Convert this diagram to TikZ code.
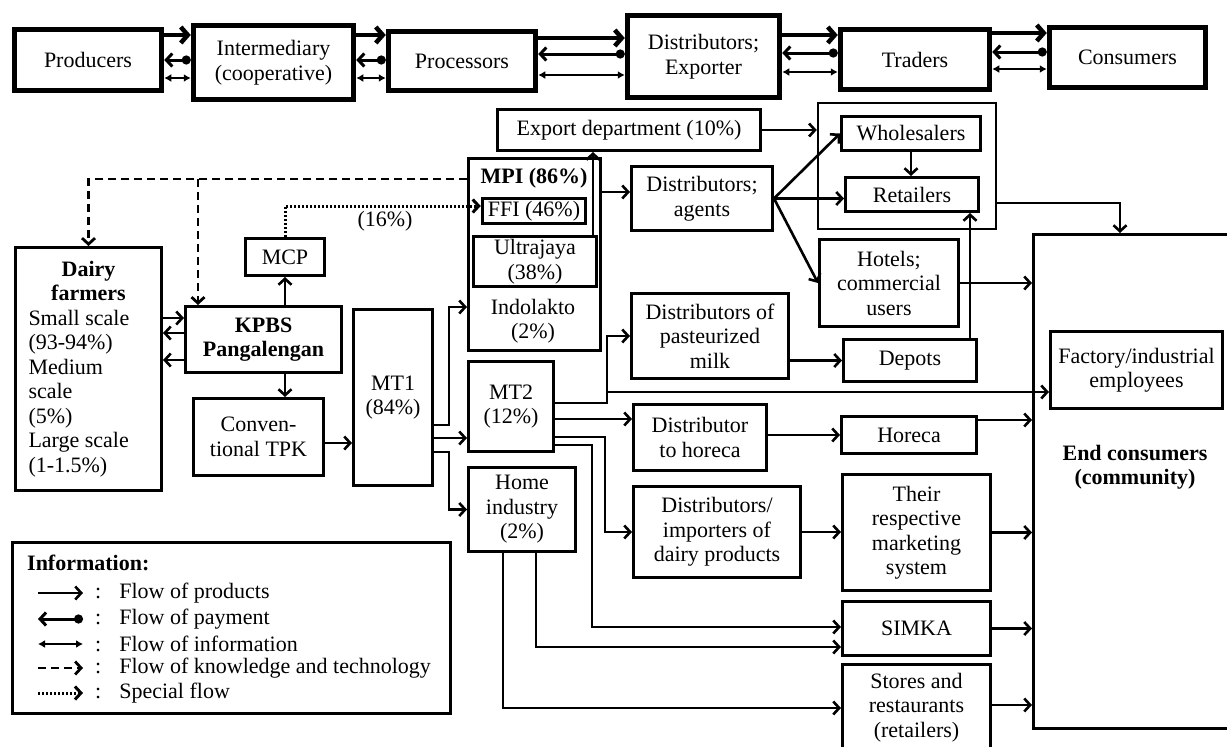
\documentclass[tikz,border=0pt]{standalone}
\usepackage{fontspec}
\setmainfont{Liberation Serif}
\usepackage{tikz}
\usetikzlibrary{arrows.meta}
\usetikzlibrary{positioning}

\begin{document}
\begin{tikzpicture}[x=1pt,y=-1pt,
  every node/.style={font=\fontsize{22}{24.5}\selectfont,align=center,inner sep=2pt},
  bold/.style={font=\fontsize{22}{24.5}\selectfont\bfseries},
  box/.style={draw,line width=3pt},
  bigbox/.style={draw,line width=5.5pt},
  frame/.style={draw,line width=2.4pt},
  prodflow/.style={line width=2.6pt,-{Straight Barb[length=6pt,width=13pt]}},
  bigprod/.style={line width=4.5pt,-{Straight Barb[length=7pt,width=16pt]}},
  payflow/.style={line width=3pt,{Straight Barb[length=6pt,width=13pt]}-{Circle[length=9pt]}},
  infoflow/.style={line width=1.8pt,{Latex[length=7pt,width=8pt]}-{Latex[length=7pt,width=8pt]}},
  knowflow/.style={line width=2.8pt,dash pattern=on 8pt off 5pt,-{Straight Barb[length=6pt,width=13pt]}},
  specflow/.style={line width=3pt,dash pattern=on 2pt off 2pt,-{Straight Barb[length=6pt,width=13pt]}}]
\path[use as bounding box,clip] (0,0) rectangle (1227,747);

\node[bigbox,minimum width=147pt,minimum height=61pt] (prod) at (88,60) {Producers};
\node[bigbox,minimum width=160pt,minimum height=74pt] (inter) at (273.5,62.5) {Intermediary\\(cooperative)};
\node[bigbox,minimum width=147pt,minimum height=59pt] (proc) at (462,61) {Processors};
\node[bigbox,minimum width=152pt,minimum height=82pt] (dist) at (703.5,56.5) {Distributors;\\Exporter};
\node[bigbox,minimum width=149pt,minimum height=60pt] (trad) at (915,59.5) {Traders};
\node[bigbox,minimum width=156pt,minimum height=60pt] (cons) at (1127.5,57.5) {Consumers};

\node[box,minimum width=263pt,minimum height=41pt] (export) at (629,130) {Export department (10\%)};
\node[frame,minimum width=178pt,minimum height=126pt] (grp) at (907,166) {};
\node[box,minimum width=139pt,minimum height=34pt] (whole) at (911,133.5) {Wholesalers};
\node[box,minimum width=133pt,minimum height=34pt] (retail) at (912,194.5) {Retailers};
\node[box,minimum width=141pt,minimum height=64pt] (agents) at (702,198.5) {Distributors;\\agents};
\node[box,minimum width=139pt,minimum height=87pt] (hotels) at (889,283) {Hotels;\\commercial\\users};
\node[box,minimum width=132pt,minimum height=192pt] (mpi) at (534.5,254.5) {};
\node[bold] (mpitxt) at (534,178) {MPI (86\%)};
\node[box,line width=3.5pt,minimum width=103pt,minimum height=25pt,inner sep=0pt] (ffi) at (534,211) {FFI (46\%)};
\node[box,line width=3.5pt,minimum width=123pt,minimum height=50pt] (ultra) at (535,261.5) {Ultrajaya\\(38\%)};
\node (indo) at (533,321) {Indolakto\\(2\%)};
\node[box,minimum width=79pt,minimum height=37pt] (mcp) at (285,257) {MCP};
\node[box,align=left,minimum width=146pt,minimum height=243pt] (dairy) at (88.5,369) {\makebox[120pt]{\textbf{Dairy}}\\\makebox[120pt]{\textbf{farmers}}\\Small scale\\(93-94\%)\\Medium\\scale\\(5\%)\\Large scale\\(1-1.5\%)};
\node[box,bold,minimum width=156pt,minimum height=66pt] (kpbs) at (263.5,339.5) {KPBS\\Pangalengan};
\node[box,minimum width=130pt,minimum height=77pt] (tpk) at (258.5,437) {Conven-\\tional TPK};
\node[box,minimum width=79pt,minimum height=176pt] (mt1) at (393,397.5) {MT1\\(84\%)};
\node[box,minimum width=85pt,minimum height=90pt] (mt2) at (511,406.5) {MT2\\(12\%)};
\node[box,minimum width=107pt,minimum height=84pt] (home) at (522,509.5) {Home\\industry\\(2\%)};
\node[box,minimum width=157pt,minimum height=85pt] (distpast) at (710,336) {Distributors of\\pasteurized\\milk};
\node[box,minimum width=133pt,minimum height=42pt] (depots) at (910,360.5) {Depots};
\node[box,minimum width=133pt,minimum height=66pt] (disthor) at (700,437.5) {Distributor\\to horeca};
\node[box,minimum width=135pt,minimum height=37pt] (horeca) at (909,435) {Horeca};
\node[box,minimum width=167pt,minimum height=91pt] (distimp) at (717,532) {Distributors/\\importers of\\dairy products};
\node[box,minimum width=148pt,minimum height=116pt] (their) at (916.5,532.5) {Their\\respective\\marketing\\system};
\node[box,minimum width=148pt,minimum height=54pt] (simka) at (916.5,628.5) {SIMKA};
\node[box,minimum width=148pt,minimum height=86pt] (stores) at (916.5,707.5) {Stores and\\restaurants\\(retailers)};
\node[box,minimum width=205pt,minimum height=494pt] (endc) at (1136,481.5) {};
\node[box,minimum width=172pt,minimum height=77pt] (factory) at (1136.5,370) {Factory/industrial\\employees};
\node[bold] (endtxt) at (1135,467) {End consumers\\(community)};
\node (pct) at (385,221) {(16\%)};

\node[box,minimum width=438pt,minimum height=171pt] (legend) at (231.5,628) {};
\node[bold,anchor=west] (infotxt) at (25,563) {Information:};
\foreach \i/\y/\sty/\lbl in {1/593/prodflow/Flow of products,2/619/payflow/Flow of payment,3/644/infoflow/Flow of information,4/668/knowflow/Flow of knowledge and technology,5/693/specflow/Special flow} {
  \coordinate (la\i) at (38,\y);
  \coordinate (lb\i) at (83,\y);
  \draw[\sty](la\i)--(lb\i);
  \node[anchor=west] (lt\i) at (93,\y) {:\hspace{18pt}\lbl};
}

\draw[bigprod](prod.east |- 0,35)--(inter.west |- 0,35);
\draw[payflow](prod.east |- 0,60)--(inter.west |- 0,60);
\draw[infoflow](prod.east |- 0,78)--(inter.west |- 0,78);
\draw[bigprod](inter.east |- 0,35)--(proc.west |- 0,35);
\draw[payflow](inter.east |- 0,60)--(proc.west |- 0,60);
\draw[infoflow](inter.east |- 0,78)--(proc.west |- 0,78);
\draw[bigprod](proc.east |- 0,38)--(dist.west |- 0,38);
\draw[payflow](proc.east |- 0,54)--(dist.west |- 0,54);
\draw[infoflow](proc.east |- 0,75)--(dist.west |- 0,75);
\draw[bigprod](dist.east |- 0,35)--(trad.west |- 0,35);
\draw[payflow](dist.east |- 0,53)--(trad.west |- 0,53);
\draw[infoflow](dist.east |- 0,72)--(trad.west |- 0,72);
\draw[bigprod](trad.east |- 0,33)--(cons.west |- 0,33);
\draw[payflow](trad.east |- 0,52)--(cons.west |- 0,52);
\draw[infoflow](trad.east |- 0,69)--(cons.west |- 0,69);

\coordinate (kn) at (198,179);
\draw[knowflow](mpi.west |- 0,179)-|(dairy.north);
\draw[knowflow](kn)--(kn |- kpbs.north);
\draw[specflow](mcp.north)|-(ffi.west |- 0,206);
\draw[prodflow](kpbs.north -| mcp.south)--(mcp.south);
\draw[prodflow](kpbs.south -| mcp.south)--(tpk.north -| mcp.south);
\draw[prodflow](dairy.east |- 0,318)--(kpbs.west |- 0,318);
\draw[prodflow](kpbs.west |- 0,333)--(dairy.east |- 0,333);
\draw[prodflow](kpbs.west |- 0,360)--(dairy.east |- 0,360);
\draw[prodflow](tpk.east |- 0,443)--(mt1.west |- 0,443);
\draw[prodflow](mt1.east |- 0,425)--++(15,0)|-(mpi.west |- 0,307);
\draw[prodflow](mt1.east |- 0,438)--(mt2.west |- 0,438);
\draw[prodflow](mt1.east |- 0,452)--++(15,0)|-(home.west);
\draw[prodflow](ultra.north -| 593,0)--(export.south -| 593,0);
\draw[prodflow](mpi.east |- 0,192)--(agents.west |- 0,192);
\draw[prodflow](export.east)--(export.east -| grp.west);
\draw[prodflow](agents.east)--(whole.west);
\draw[prodflow](agents.east)--(agents.east -| retail.west);
\draw[prodflow](agents.east)--(hotels.west);
\draw[prodflow](whole.south)--(whole.south |- retail.north);
\draw[prodflow](grp.east |- 0,203)-|([xshift=-16pt]endc.north);
\draw[prodflow](hotels.east)--(hotels.east -| endc.west);
\draw[prodflow](distpast.east |- depots.west)--(depots.west);
\draw[prodflow](depots.north -| 970,0)--(retail.south -| 970,0);
\coordinate (fb) at (607,392);
\draw[prodflow](mt2.east |- 0,403)--++(52,0)|-(distpast.west);
\draw[prodflow](fb)--(factory.west |- fb);
\draw[prodflow](mt2.east |- 0,419)--(disthor.west |- 0,419);
\draw[prodflow](mt2.east |- 0,437)--++(50,0)|-(distimp.west);
\draw[prodflow](mt2.east |- 0,445)--++(37,0)|-(simka.west |- 0,627);
\draw[prodflow](home.south -| 536,0)|-(simka.west |- 0,647);
\draw[prodflow](home.south -| 503,0)|-(stores.west |- 0,708);
\draw[prodflow](disthor.east |- horeca.west)--(horeca.west);
\draw[prodflow](horeca.east |- 0,420)--(endc.west |- 0,420);
\draw[prodflow](distimp.east)--(distimp.east -| their.west);
\draw[prodflow](their.east)--(their.east -| endc.west);
\draw[prodflow](simka.east)--(simka.east -| endc.west);
\draw[prodflow](stores.east |- 0,705)--(endc.west |- 0,705);
\end{tikzpicture}
\end{document}
